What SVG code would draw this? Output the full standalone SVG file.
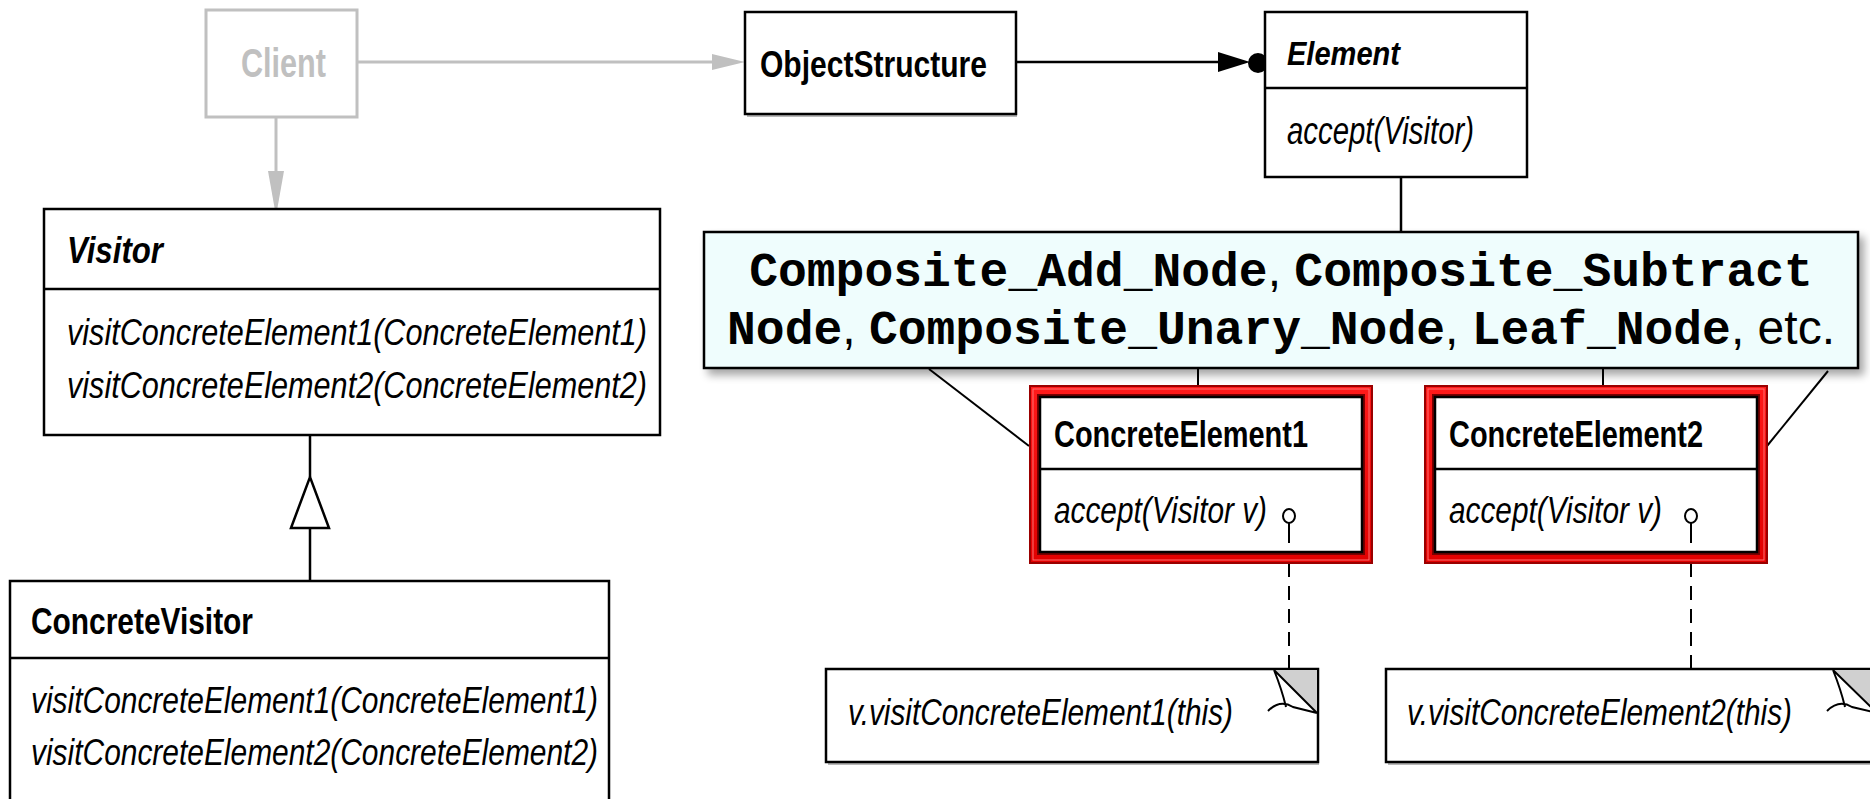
<svg xmlns="http://www.w3.org/2000/svg" width="1870" height="799" viewBox="0 0 1870 799">
<defs>
<style>
.box{fill:#fff;stroke:#000;stroke-width:2.5}
.gbox{fill:#fff;stroke:#c0c0c0;stroke-width:3}
.t{font-family:"Liberation Sans",Arial,sans-serif;font-size:37px;fill:#000}
.b{font-weight:bold}
.i{font-style:italic}
.ln{stroke:#000;stroke-width:2.5;fill:none}
.thin{stroke:#000;stroke-width:2;fill:none}
.dash{stroke:#000;stroke-width:2;stroke-dasharray:14 9;fill:none}
.gl{stroke:#c0c0c0;stroke-width:3;fill:none}
.sh{stroke:#b8b8b8;stroke-width:2;fill:none}
.mono{font-family:"Liberation Mono","Courier New",monospace;font-weight:bold;font-size:48px;fill:#000}
.sans{font-family:"Liberation Sans",Arial,sans-serif;font-weight:normal}
.frame{fill:url(#redg);stroke:#9a0000;stroke-width:2}
.hl{fill:none;stroke:#ff7070;stroke-width:1}
.dk{fill:none;stroke:#7a0000;stroke-width:2}
.inner{fill:#fff;stroke:#000;stroke-width:2.5}
.ear{fill:#d0d0d0;stroke:none}
</style>
<linearGradient id="redg" x1="0" y1="0" x2="0" y2="1">
<stop offset="0" stop-color="#ff1a1a"/>
<stop offset="1" stop-color="#e00000"/>
</linearGradient>
<filter id="sh" x="-5%" y="-10%" width="115%" height="140%">
<feGaussianBlur in="SourceAlpha" stdDeviation="4"/>
<feOffset dx="5" dy="6" result="o"/>
<feComponentTransfer><feFuncA type="linear" slope="0.35"/></feComponentTransfer>
<feMerge><feMergeNode/><feMergeNode in="SourceGraphic"/></feMerge>
</filter>
</defs>

<g id="connectors">
<line class="gl" x1="357" y1="62" x2="714" y2="62"/>
<polygon points="712,54 745,62 712,70" fill="#c0c0c0"/>
<line class="gl" x1="276" y1="117" x2="276" y2="172"/>
<polygon points="268,171 284,171 276,216" fill="#c0c0c0"/>
<line class="ln" x1="1016" y1="62" x2="1222" y2="62"/>
<polygon points="1218,52 1250,62 1218,72" fill="#000"/>
<circle cx="1258" cy="63" r="10" fill="#000"/>
<line class="ln" x1="1401" y1="177" x2="1401" y2="232"/>
<line class="ln" x1="310" y1="435" x2="310" y2="477"/>
<polygon points="291,528 310,477 329,528" fill="#fff" stroke="#000" stroke-width="2.5"/>
<line class="ln" x1="310" y1="528" x2="310" y2="581"/>
<line class="thin" x1="1198" y1="368" x2="1198" y2="386"/>
<line class="thin" x1="1603" y1="368" x2="1603" y2="386"/>
<line class="thin" x1="929" y1="369" x2="1029" y2="446"/>
<line class="thin" x1="1828" y1="371" x2="1767" y2="446"/>
<line class="dash" x1="1289" y1="563" x2="1289" y2="669"/>
<line class="dash" x1="1691" y1="563" x2="1691" y2="669"/>
</g>

<g id="client">
<rect class="gbox" x="206" y="10" width="151" height="107"/>
<text class="t b" x="241" y="77" style="font-size:40px;fill:#c0c0c0" textLength="85" lengthAdjust="spacingAndGlyphs">Client</text>
</g>

<g id="objectstructure">
<line class="sh" x1="747" y1="116" x2="1017" y2="116"/>
<rect class="box" x="745" y="12" width="271" height="102"/>
<text class="t b" x="760" y="77" textLength="227" lengthAdjust="spacingAndGlyphs">ObjectStructure</text>
</g>

<g id="element">
<rect class="box" x="1265" y="12" width="262" height="165"/>
<line class="ln" x1="1265" y1="88" x2="1527" y2="88"/>
<text class="t b i" x="1287" y="65" style="font-size:34px" textLength="113" lengthAdjust="spacingAndGlyphs">Element</text>
<text class="t i" x="1287" y="144" style="font-size:38px" textLength="187" lengthAdjust="spacingAndGlyphs">accept(Visitor)</text>
</g>

<g id="visitor">
<rect class="box" x="44" y="209" width="616" height="226"/>
<line class="ln" x1="44" y1="289" x2="660" y2="289"/>
<text class="t b i" x="67" y="263" textLength="96" lengthAdjust="spacingAndGlyphs">Visitor</text>
<text class="t i" x="67" y="345" textLength="580" lengthAdjust="spacingAndGlyphs">visitConcreteElement1(ConcreteElement1)</text>
<text class="t i" x="67" y="398" textLength="580" lengthAdjust="spacingAndGlyphs">visitConcreteElement2(ConcreteElement2)</text>
</g>

<g id="concretevisitor">
<rect class="box" x="10" y="581" width="599" height="240"/>
<line class="ln" x1="10" y1="658" x2="609" y2="658"/>
<text class="t b" x="31" y="634" textLength="222" lengthAdjust="spacingAndGlyphs">ConcreteVisitor</text>
<text class="t i" x="31" y="713" textLength="567" lengthAdjust="spacingAndGlyphs">visitConcreteElement1(ConcreteElement1)</text>
<text class="t i" x="31" y="765" textLength="567" lengthAdjust="spacingAndGlyphs">visitConcreteElement2(ConcreteElement2)</text>
</g>

<g id="composite">
<rect x="704" y="232" width="1154" height="136" fill="#effdfd" stroke="#000" stroke-width="2.5" filter="url(#sh)"/>
<text class="mono" x="1281" y="286" text-anchor="middle">Composite_Add_Node<tspan class="sans">, </tspan>Composite_Subtract</text>
<text class="mono" x="1281" y="344" text-anchor="middle">Node<tspan class="sans">, </tspan>Composite_Unary_Node<tspan class="sans">, </tspan>Leaf_Node<tspan class="sans">, etc.</tspan></text>
</g>

<g id="concreteelement1">
<rect class="frame" x="1030" y="386" width="342" height="177"/>
<rect class="hl" x="1033" y="389" width="336" height="171"/>
<rect class="dk" x="1038" y="395" width="326" height="159"/>
<rect class="inner" x="1040" y="397" width="322" height="155"/>
<line class="ln" x1="1040" y1="469" x2="1362" y2="469"/>
<text class="t b" x="1054" y="447" textLength="254" lengthAdjust="spacingAndGlyphs">ConcreteElement1</text>
<text class="t i" x="1054" y="523" textLength="213" lengthAdjust="spacingAndGlyphs">accept(Visitor v)</text>
<ellipse cx="1289" cy="516" rx="6" ry="7" fill="#fff" stroke="#000" stroke-width="2"/>
<line class="thin" x1="1289" y1="523" x2="1289" y2="543"/>
</g>

<g id="concreteelement2">
<rect class="frame" x="1425" y="386" width="342" height="177"/>
<rect class="hl" x="1428" y="389" width="336" height="171"/>
<rect class="dk" x="1433" y="395" width="326" height="159"/>
<rect class="inner" x="1435" y="397" width="322" height="155"/>
<line class="ln" x1="1435" y1="469" x2="1757" y2="469"/>
<text class="t b" x="1449" y="447" textLength="254" lengthAdjust="spacingAndGlyphs">ConcreteElement2</text>
<text class="t i" x="1449" y="523" textLength="213" lengthAdjust="spacingAndGlyphs">accept(Visitor v)</text>
<ellipse cx="1691" cy="516" rx="6" ry="7" fill="#fff" stroke="#000" stroke-width="2"/>
<line class="thin" x1="1691" y1="523" x2="1691" y2="543"/>
</g>

<g id="note1">
<line class="sh" x1="828" y1="764" x2="1319" y2="764"/>
<rect class="box" x="826" y="669" width="492" height="93"/>
<polygon class="ear" points="1274,670 1317,670 1317,713"/>
<path class="thin" d="M1274,670 Q1282,690 1286,707 M1268,711 Q1280,699 1293,707 L1317,713 M1274,670 L1317,713"/>
<text class="t i" x="848" y="725" textLength="385" lengthAdjust="spacingAndGlyphs">v.visitConcreteElement1(this)</text>
</g>

<g id="note2">
<line class="sh" x1="1388" y1="764" x2="1870" y2="764"/>
<rect class="box" x="1386" y="669" width="500" height="93"/>
<polygon class="ear" points="1833,670 1877,670 1877,713"/>
<path class="thin" d="M1833,670 Q1841,690 1845,707 M1827,711 Q1839,699 1852,707 L1877,713 M1833,670 L1877,713"/>
<text class="t i" x="1407" y="725" textLength="385" lengthAdjust="spacingAndGlyphs">v.visitConcreteElement2(this)</text>
</g>
</svg>
